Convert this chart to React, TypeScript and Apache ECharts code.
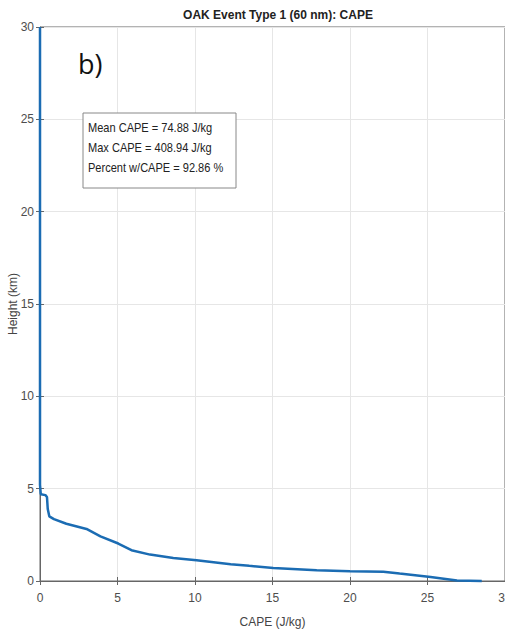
import React, { useEffect, useRef } from "react";
import * as echarts from "echarts";

const titleText = "OAK Event Type 1 (60 nm): CAPE";
const xAxisName = "CAPE (J/kg)";
const yAxisName = "Height (km)";
const panelLabel = "b)";
const statsLines = ["Mean CAPE = 74.88 J/kg", "Max CAPE = 408.94 J/kg", "Percent w/CAPE = 92.86 %"];

// CAPE (J/kg) along the profile, paired with height (km)
const capeValues = [0.0, 0.0, 0.0, 0.05, 0.35, 0.45, 0.5, 0.6, 0.9, 1.7, 3.0, 3.9, 5.05, 5.9, 7.1, 8.6, 10.1, 12.3, 13.5, 15.05, 17.85, 20.0, 22.15, 23.2, 25.2, 26.9, 28.5];
const heightValues = [30.0, 10.0, 5.2, 4.7, 4.65, 4.55, 3.9, 3.5, 3.35, 3.1, 2.82, 2.42, 2.03, 1.67, 1.43, 1.25, 1.12, 0.91, 0.82, 0.71, 0.58, 0.53, 0.5, 0.4, 0.22, 0.03, 0.0];

const axisMin = 0;
const axisMax = 30;
const axisStep = 5;

export default function App() {
  const ref = useRef<HTMLDivElement>(null);
  useEffect(() => {
    if (!ref.current) return;
    const chart = echarts.init(ref.current, undefined, { renderer: "svg" });
    const data = capeValues.map((c, i) => [c, heightValues[i]]);
    const font = "'Liberation Sans', Arial, sans-serif";
    const labelStyle = { color: "#4d4d4d", fontSize: 12, fontFamily: font };
    chart.setOption({
      animation: false,
      backgroundColor: "#fff",
      title: {
        text: titleText,
        left: 273,
        textAlign: "center",
        top: 4,
        textStyle: { fontSize: 12, fontWeight: "bold", color: "#222", fontFamily: font },
      },
      grid: {
        left: 40,
        top: 27,
        width: 465,
        height: 554,
        show: true,
        borderColor: "#666",
        borderWidth: 1,
        containLabel: false,
        outerBoundsMode: "none",
      },
      xAxis: [
        {
          type: "value",
          min: axisMin,
          max: axisMax,
          interval: axisStep,
          name: xAxisName,
          nameLocation: "middle",
          nameGap: 35,
          nameMoveOverlap: false,
          nameTextStyle: { color: "#444", fontSize: 12, fontFamily: font },
          axisLine: { show: true, lineStyle: { color: "#666" } },
          axisTick: { show: true, inside: true, length: 4, lineStyle: { color: "#666" } },
          axisLabel: { ...labelStyle, margin: 11 },
          splitLine: { show: true, lineStyle: { color: "#e6e6e6", width: 1 } },
        },
        {
          type: "value",
          position: "top",
          min: axisMin,
          max: axisMax,
          interval: axisStep,
          axisLine: { show: false },
          axisTick: { show: true, inside: true, length: 4, lineStyle: { color: "#666" } },
          axisLabel: { show: false },
          splitLine: { show: false },
        },
      ],
      yAxis: [
        {
          type: "value",
          min: axisMin,
          max: axisMax,
          interval: axisStep,
          name: yAxisName,
          nameLocation: "middle",
          nameGap: 21,
          nameMoveOverlap: false,
          nameTextStyle: { color: "#444", fontSize: 12, fontFamily: font },
          axisLine: { show: true, lineStyle: { color: "#666" } },
          axisTick: { show: true, inside: true, length: 4, lineStyle: { color: "#666" } },
          axisLabel: { ...labelStyle, margin: 6 },
          splitLine: { show: true, lineStyle: { color: "#e6e6e6", width: 1 } },
        },
        {
          type: "value",
          position: "right",
          min: axisMin,
          max: axisMax,
          interval: axisStep,
          axisLine: { show: false },
          axisTick: { show: true, inside: true, length: 4, lineStyle: { color: "#666" } },
          axisLabel: { show: false },
          splitLine: { show: false },
        },
      ],
      series: [
        {
          type: "line",
          data,
          showSymbol: false,
          symbol: "none",
          smooth: false,
          clip: false,
          lineStyle: { color: "#1b6cb3", width: 2.5 },
          z: 5,
        },
      ],
      graphic: [
        {
          type: "text",
          left: 78,
          top: 50,
          style: { text: panelLabel, fontSize: 27, fill: "#111", fontFamily: "'Open Sans', 'Noto Sans', sans-serif" },
          z: 10,
        },
        {
          type: "rect",
          shape: { x: 83, y: 113, width: 153, height: 75 },
          style: { fill: "#fff", stroke: "#888", lineWidth: 1 },
          z: 10,
        },
        ...statsLines.map((t, i) => ({
          type: "text",
          x: 88,
          y: 121 + i * 20,
          scaleX: 0.85,
          style: { text: t, fontSize: 13, fill: "#222", fontFamily: font },
          z: 11,
        })),
      ],
    });
    return () => chart.dispose();
  }, []);
  return (
    <div
      ref={ref}
      style={{ position: "fixed", left: 0, top: 0, width: 505, height: 636, background: "#fff" }}
    />
  );
}
